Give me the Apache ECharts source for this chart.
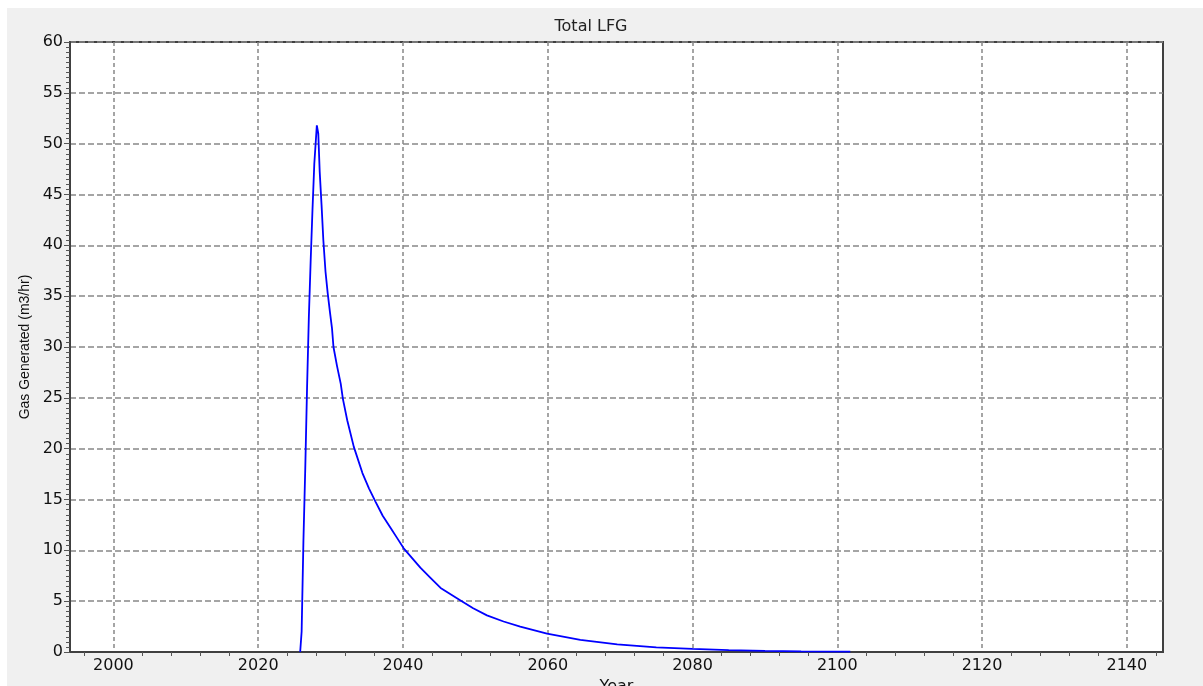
<!DOCTYPE html>
<html>
<head>
<meta charset="utf-8">
<script src="https://cdn.jsdelivr.net/npm/echarts@6/dist/echarts.min.js"></script>
<style>
* { margin: 0; padding: 0; }
body { width: 1203px; height: 686px; background: #fff; position: relative; overflow: hidden; }
#chart { position: absolute; left: 7px; top: 8px; width: 1196px; height: 678px; }
</style>
</head>
<body>
<div id="chart"></div>
<script>
// total LFG
const years = [2025.8, 2026.0, 2026.25, 2026.5, 2026.75, 2027.0, 2027.25, 2027.5, 2027.75, 2028.1,
    2028.3, 2028.5, 2028.75, 2029.0, 2029.3, 2029.6, 2029.9, 2030.2, 2030.4, 2030.9,
    2031.4, 2031.7, 2032.3, 2033.2, 2034.4, 2035.3, 2036.2, 2037.2, 2038.3, 2039.2,
    2040.1, 2042.4, 2043.8, 2045.2, 2047.9, 2049.7, 2051.6, 2053.9, 2056.2, 2059.9,
    2064.5, 2069.6, 2075, 2080, 2085, 2090, 2095, 2101.8]
const gas = [0, 2.0, 11, 18, 26, 33, 38.5, 43.5, 48, 51.8,
    51.0, 47.2, 44, 40.5, 37.4, 35.3, 33.5, 31.8, 30.0, 28.1,
    26.4, 24.9, 22.8, 20.2, 17.6, 16.1, 14.8, 13.4, 12.2, 11.2,
    10.2, 8.3, 7.3, 6.3, 5.1, 4.3, 3.6, 3.0, 2.5, 1.8,
    1.2, 0.75, 0.45, 0.3, 0.18, 0.11, 0.07, 0.04]

const xLabels = [2000, 2020, 2040, 2060, 2080, 2100, 2120, 2140]
const xMinorTicks = [1996, 2004, 2008, 2012, 2016, 2024, 2028, 2032, 2036, 2044, 2048, 2052, 2056,
    2064, 2068, 2072, 2076, 2084, 2088, 2092, 2096, 2104, 2108, 2112, 2116, 2124, 2128, 2132, 2136, 2144]

const axisFont = { fontFamily: 'DejaVu Sans', fontSize: 16, color: '#111' }

const chart = echarts.init(document.getElementById('chart'))
chart.setOption({
    backgroundColor: '#f0f0f0',
    animation: false,
    title: {
        text: 'Total LFG',
        left: 579,
        top: 6,
        textAlign: 'center',
        textStyle: { fontFamily: 'DejaVu Sans', fontSize: 16, fontWeight: 'normal', color: '#222' }
    },
    grid: {
        left: 63, top: 34, width: 1093, height: 610,
        outerBoundsMode: 'none',
        containLabel: false,
        show: true,
        backgroundColor: '#fff',
        borderColor: '#404040',
        borderWidth: 2
    },
    xAxis: [{
        type: 'value',
        min: 1994, max: 2145,
        name: 'Year',
        nameLocation: 'middle',
        nameGap: 22,
        nameTextStyle: axisFont,
        axisLine: { lineStyle: { color: '#404040', width: 2 } },
        axisTick: { show: true, customValues: xMinorTicks, length: 4, lineStyle: { color: '#555' } },
        axisLabel: Object.assign({ customValues: xLabels, margin: 6, formatter: v => String(v) }, axisFont),
        splitLine: { show: false }
    }, {
        // only here to draw the 20-year grid lines
        type: 'value',
        min: 1994, max: 2145,
        position: 'bottom',
        axisLine: { show: false },
        axisTick: { show: false, customValues: xLabels },
        axisLabel: { show: false },
        splitLine: { show: true, lineStyle: { color: '#888', width: 1.5, type: [4, 3] } }
    }],
    yAxis: {
        type: 'value',
        min: 0, max: 60, interval: 5,
        name: 'Gas Generated (m3/hr)',
        nameLocation: 'middle',
        nameGap: 38,
        nameTextStyle: { fontFamily: 'Liberation Sans', fontSize: 14, color: '#111' },
        axisLine: { show: true, lineStyle: { color: '#404040', width: 2 } },
        axisTick: { show: true, length: 6, lineStyle: { color: '#555' } },
        minorTick: { show: true, splitNumber: 10, length: 4, lineStyle: { color: '#555' } },
        axisLabel: Object.assign({ margin: 7 }, axisFont),
        splitLine: { show: true, lineStyle: { color: '#888', width: 1.5, type: [6, 3] } }
    },
    series: [{
        type: 'line',
        xAxisIndex: 0,
        data: years.map((y, i) => [y, gas[i]]),
        showSymbol: false,
        lineStyle: { color: '#0000ff', width: 1.8 },
        itemStyle: { color: '#0000ff' }
    }]
})
</script>
</body>
</html>
